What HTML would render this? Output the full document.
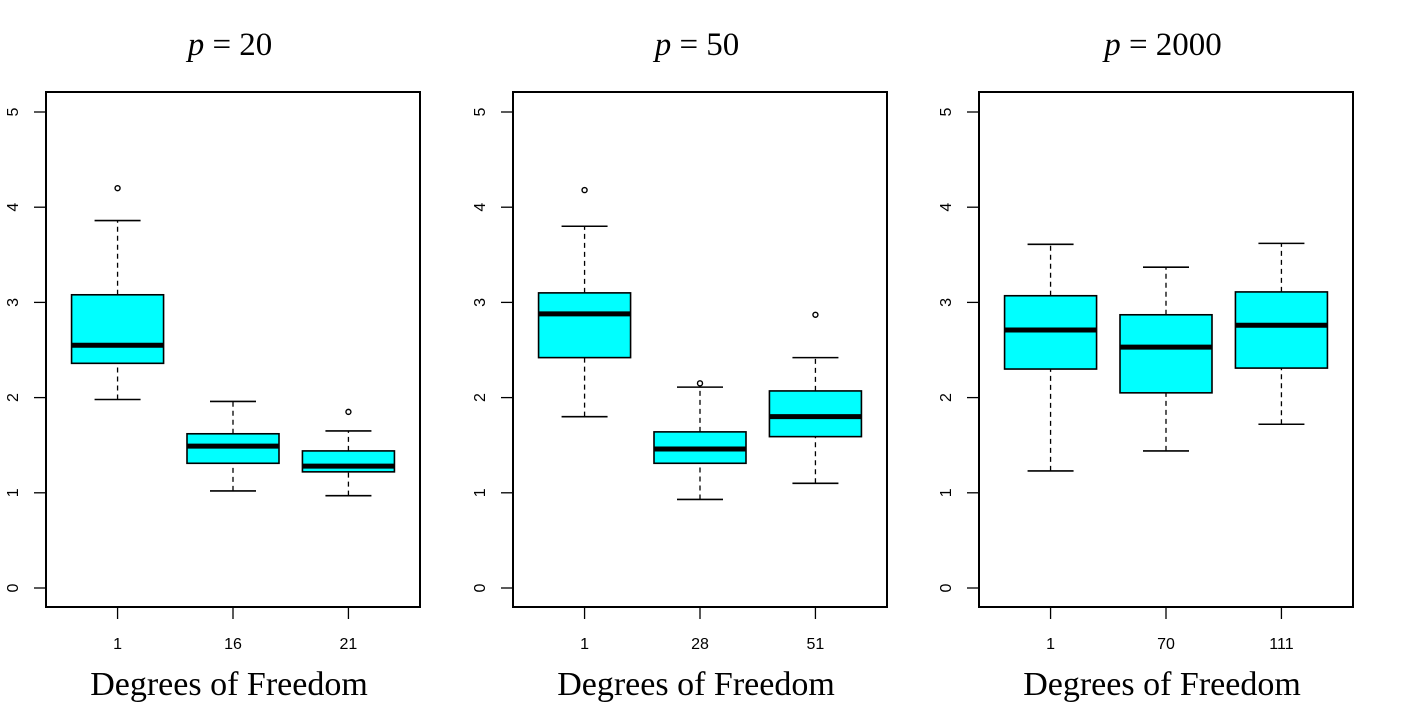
<!DOCTYPE html>
<html><head><meta charset="utf-8"><style>
html,body{margin:0;padding:0;background:#fff;}
svg{display:block;}
</style></head><body>
<svg id="chart" width="1403" height="703" xmlns="http://www.w3.org/2000/svg"></svg>
<script>
const panelTitles = ["20","50","2000"];
const categories = [["1","16","21"],["1","28","51"],["1","70","111"]];
const whiskerLow = [[1.98,1.02,0.97],[1.80,0.93,1.10],[1.23,1.44,1.72]];
const q1Values = [[2.36,1.31,1.22],[2.42,1.31,1.59],[2.30,2.05,2.31]];
const medianValues = [[2.55,1.49,1.28],[2.88,1.46,1.80],[2.71,2.53,2.76]];
const q3Values = [[3.08,1.62,1.44],[3.10,1.64,2.07],[3.07,2.87,3.11]];
const whiskerHigh = [[3.86,1.96,1.65],[3.80,2.11,2.42],[3.61,3.37,3.62]];
const outliers = [[[4.20],[],[1.85]],[[4.18],[2.15],[2.87]],[[],[],[]]];
const yTicks = [0,1,2,3,4,5];

const NS="http://www.w3.org/2000/svg";
const svg=document.getElementById('chart');
function mk(tag,attrs,parent){const e=document.createElementNS(NS,tag);for(const k in attrs)e.setAttribute(k,attrs[k]);(parent||svg).appendChild(e);return e;}
const panelLeft=[46,513,979], panelW=374, plotTop=92, plotBottom=607;
const yScale=v=>588-v*95.2;
for(let p=0;p<3;p++){
  const L=panelLeft[p];
  const g=mk('g',{});
  
  
  const xScale=c=>L+(c-0.38)*(panelW/3.24);
  const t=mk('text',{x:L+panelW/2-3,y:55,'text-anchor':'middle','font-family':'Liberation Serif, serif','font-size':33},g);
  
  
  t.innerHTML='<tspan font-style="italic">p</tspan> = '+panelTitles[p];
  const fr=mk('rect',{x:L,y:plotTop,width:panelW,height:plotBottom-plotTop,fill:'none',stroke:'#000','stroke-width':2},g);
  
  
  yTicks.forEach(v=>{
    mk('line',{x1:L,x2:L-12,y1:yScale(v),y2:yScale(v),stroke:'#000','stroke-width':1.3},g);
    const tl=mk('text',{x:0,y:0,transform:`translate(${L-28},${yScale(v)}) rotate(-90)`,'text-anchor':'middle','font-family':'Liberation Sans, sans-serif','font-size':16},g);
    
    
    tl.textContent=v;
  });
  categories[p].forEach((c,i)=>{
    const cx=xScale(i+1);
    mk('line',{x1:cx,x2:cx,y1:plotBottom,y2:plotBottom+12,stroke:'#000','stroke-width':1.3},g);
    const tl=mk('text',{x:cx,y:649,'text-anchor':'middle','font-family':'Liberation Sans, sans-serif','font-size':16},g);
    
    
    tl.textContent=c;
    const bg=mk('g',{},g);
    
    
    const hw=46, cw=23;
    mk('line',{x1:cx,x2:cx,y1:yScale(whiskerLow[p][i]),y2:yScale(q1Values[p][i]),stroke:'#000','stroke-width':1.3,'stroke-dasharray':'5,4'},bg);
    mk('line',{x1:cx,x2:cx,y1:yScale(q3Values[p][i]),y2:yScale(whiskerHigh[p][i]),stroke:'#000','stroke-width':1.3,'stroke-dasharray':'5,4'},bg);
    mk('line',{x1:cx-cw,x2:cx+cw,y1:yScale(whiskerLow[p][i]),y2:yScale(whiskerLow[p][i]),stroke:'#000','stroke-width':1.6},bg);
    mk('line',{x1:cx-cw,x2:cx+cw,y1:yScale(whiskerHigh[p][i]),y2:yScale(whiskerHigh[p][i]),stroke:'#000','stroke-width':1.6},bg);
    mk('rect',{x:cx-hw,y:yScale(q3Values[p][i]),width:2*hw,height:yScale(q1Values[p][i])-yScale(q3Values[p][i]),fill:'#00ffff',stroke:'#000','stroke-width':1.6},bg);
    mk('line',{x1:cx-hw,x2:cx+hw,y1:yScale(medianValues[p][i]),y2:yScale(medianValues[p][i]),stroke:'#000','stroke-width':5},bg);
    outliers[p][i].forEach(o=>{
      const oc=mk('circle',{cx:cx,cy:yScale(o),r:2.5,fill:'none',stroke:'#000','stroke-width':1.4},bg);
      
      
    });
  });
  const xl=mk('text',{x:L+panelW/2-4,y:695,'text-anchor':'middle','font-family':'Liberation Serif, serif','font-size':34},g);
  
  
  xl.textContent='Degrees of Freedom';
}
</script>
</body></html>
